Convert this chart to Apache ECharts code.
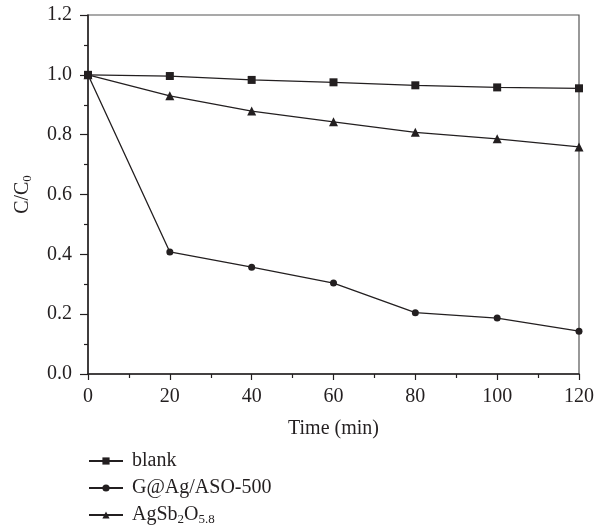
<!DOCTYPE html>
<html>
<head>
<meta charset="utf-8">
<script src="https://cdn.jsdelivr.net/npm/echarts@6/dist/echarts.min.js"></script>
<style>
  html, body { margin: 0; padding: 0; background: #fff; }
  #chart { width: 597px; height: 531px; }
</style>
</head>
<body>
<div id="chart"></div>
<script>
// Time points (min) and relative concentration C/C0 for each sample
const times = [0, 20, 40, 60, 80, 100, 120];
const blank = [1.0, 0.996, 0.983, 0.975, 0.965, 0.958, 0.955];
const gagAso = [1.0, 0.408, 0.357, 0.304, 0.205, 0.187, 0.143];
const agSbO = [1.0, 0.930, 0.879, 0.843, 0.808, 0.786, 0.759];

const seriesNames = ['blank', 'G@Ag/ASO-500', 'AgSb2O5.8'];
const xTicks = [0, 20, 40, 60, 80, 100, 120];
const yTicks = [0.0, 0.2, 0.4, 0.6, 0.8, 1.0, 1.2];

const ink = '#231f20';
const font = 'Liberation Serif';
const fs = 20;

const pairs = arr => times.map((t, i) => [t, arr[i]]);

const chart = echarts.init(document.getElementById('chart'), null, { renderer: 'canvas' });

const subStyle = { fontSize: 13, fontFamily: font, color: ink, padding: [10, 0, 0, 0] };

chart.setOption({
  animation: false,
  backgroundColor: '#fff',
  grid: {
    left: 88, right: 16, top: 15, bottom: 157,
    show: true, borderColor: '#555', borderWidth: 1.2, backgroundColor: 'transparent'
  },
  xAxis: {
    type: 'value',
    min: xTicks[0], max: xTicks[xTicks.length - 1], interval: 20,
    name: 'Time (min)', nameLocation: 'middle', nameGap: 45,
    nameTextStyle: { fontFamily: font, fontSize: fs, color: ink },
    axisLine: { lineStyle: { color: ink, width: 1.5 } },
    axisTick: { inside: false, length: 6, lineStyle: { color: ink, width: 1.2 } },
    minorTick: { show: true, splitNumber: 2, length: 4, lineStyle: { color: ink, width: 1.2 } },
    axisLabel: { fontFamily: font, fontSize: fs, color: ink, margin: 13 },
    splitLine: { show: false }
  },
  yAxis: {
    type: 'value',
    min: yTicks[0], max: yTicks[yTicks.length - 1], interval: 0.2,
    name: 'C/C{sub|0}', nameLocation: 'middle', nameGap: 54, nameRotate: 90,
    nameTextStyle: { fontFamily: font, fontSize: fs, color: ink, rich: { sub: subStyle } },
    axisLine: { lineStyle: { color: ink, width: 1.5 } },
    axisTick: { inside: false, length: 8, lineStyle: { color: ink, width: 1.2 } },
    minorTick: { show: true, splitNumber: 2, length: 4, lineStyle: { color: ink, width: 1.2 } },
    axisLabel: { fontFamily: font, fontSize: fs, color: ink, margin: 16, formatter: v => v.toFixed(1) },
    splitLine: { show: false }
  },
  legend: {
    orient: 'vertical',
    left: 83, top: 446, height: 200,
    itemWidth: 34, itemHeight: 9, itemGap: 7,
    data: seriesNames,
    textStyle: {
      fontFamily: font, fontSize: fs, color: ink, padding: [0, 0, 0, 4],
      rich: { sub: subStyle }
    },
    formatter: name => name === 'AgSb2O5.8' ? 'AgSb{sub|2}O{sub|5.8}' : name
  },
  series: [
    {
      name: seriesNames[0], type: 'line', data: pairs(blank),
      symbol: 'rect', symbolSize: 8,
      lineStyle: { color: ink, width: 1.3 }, itemStyle: { color: ink }
    },
    {
      name: seriesNames[1], type: 'line', data: pairs(gagAso),
      symbol: 'circle', symbolSize: 7,
      lineStyle: { color: ink, width: 1.3 }, itemStyle: { color: ink }
    },
    {
      name: seriesNames[2], type: 'line', data: pairs(agSbO),
      symbol: 'triangle', symbolSize: 9,
      lineStyle: { color: ink, width: 1.3 }, itemStyle: { color: ink }
    }
  ]
});
</script>
</body>
</html>
